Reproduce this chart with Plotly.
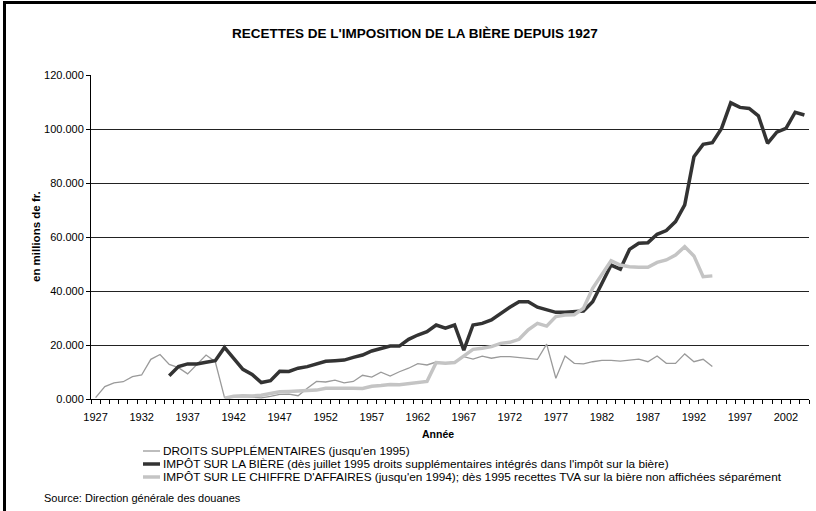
import plotly.graph_objects as go

years = list(range(1927, 2005))

# DROITS SUPPLÉMENTAIRES, 1927-1994 (millions de fr.)
droits_years = list(range(1927, 1995))
droits = [500, 4600, 6000, 6400, 8300, 8900, 14700, 16500, 12800, 11600,
          9300, 12800, 16300, 13800, 600, 800, 900, 700, 400, 1000,
          1700, 1800, 1200, 4000, 6500, 6300, 7000, 6000, 6500, 8800,
          8100, 9900, 8500, 10100, 11400, 13100, 12600, 13700, 13200, 13800,
          15700, 14800, 15900, 15100, 15700, 15700, 15300, 14900, 14700, 20300,
          7700, 15900, 13200, 13000, 13800, 14300, 14300, 14000, 14300, 14800,
          13800, 15900, 13200, 13200, 16700, 13800, 14700, 12000]

# IMPÔT SUR LA BIÈRE, 1935-2004
impot_years = list(range(1935, 2005))
impot = [8600, 12000, 13000, 13000, 13600, 14200, 19100, 15100, 11000, 9100,
         6100, 6800, 10300, 10200, 11400, 12000, 13000, 14000, 14200, 14400,
         15400, 16300, 17800, 18800, 19600, 19600, 22100, 23700, 24900, 27400,
         26200, 27400, 18100, 27400, 28000, 29300, 31700, 34000, 36000, 36000,
         34000, 33200, 32100, 32100, 32300, 32600, 36000, 42800, 49600, 48100,
         55400, 57700, 57900, 61000, 62400, 65700, 71900, 89700, 94300, 94900,
         100200, 109700, 108000, 107600, 104900, 94700, 98800, 100200, 106200, 105200]

# IMPÔT SUR LE CHIFFRE D'AFFAIRES, 1941-1994
chiffre_years = list(range(1941, 1995))
chiffre = [300, 1000, 1200, 1100, 1400, 1900, 2700, 2800, 3000, 3100,
           3300, 4000, 4100, 4100, 4000, 3900, 4700, 5000, 5400, 5300,
           5800, 6100, 6500, 13500, 13200, 13500, 15900, 18400, 18800, 19400,
           20600, 21000, 22100, 25600, 28000, 27000, 30500, 31100, 31200, 33600,
           41000, 45900, 51200, 49600, 49000, 48800, 48800, 50600, 51500, 53300,
           56400, 53000, 45300, 45600]

series_names = [
    "DROITS SUPPLÉMENTAIRES (jusqu'en 1995)",
    "IMPÔT SUR LA BIÈRE (dès juillet 1995 droits supplémentaires intégrés dans l'impôt sur la bière)",
    "IMPÔT SUR LE CHIFFRE D'AFFAIRES (jusqu'en 1994); dès 1995 recettes TVA sur la bière non affichées séparément",
]
series_colors = ["#9a9a9a", "#333333", "#c4c4c4"]
series_widths = [1.3, 3.5, 3.5]

x_tick_years = list(range(1927, 2005, 5))
y_tick_vals = [0, 20000, 40000, 60000, 80000, 100000, 120000]
y_tick_text = ["0.000", "20.000", "40.000", "60.000", "80.000", "100.000", "120.000"]

title_text = "RECETTES DE L'IMPOSITION DE LA BIÈRE DEPUIS 1927"
y_title = "en millions de fr."
x_title = "Année"
source_text = "Source: Direction générale des douanes"

FONT = "Liberation Sans, Arial, sans-serif"

W, H = 816, 511
L, R, T, B = 91, 7, 75, 112
pw, ph = W - L - R, H - T - B


def px_x(p):
    return (p - L) / pw


def px_y(p):
    return (H - B - p) / ph


fig = go.Figure()
for xs, ys, nm, c, w in zip([droits_years, impot_years, chiffre_years],
                            [droits, impot, chiffre], series_names,
                            series_colors, series_widths):
    fig.add_trace(go.Scatter(x=xs, y=ys, mode="lines", name=nm,
                             line=dict(color=c, width=w), showlegend=False,
                             hoverinfo="skip"))

annotations = [
    dict(text="<b>" + title_text + "</b>", xref="paper", yref="paper",
         x=px_x(415), y=px_y(33), xanchor="center", yanchor="middle",
         showarrow=False, font=dict(size=13.5, family=FONT)),
    dict(text="<b>" + y_title + "</b>", xref="paper", yref="paper",
         x=px_x(36), y=px_y(237), xanchor="center", yanchor="middle",
         textangle=-90, showarrow=False, font=dict(size=11.5, family=FONT)),
    dict(text="<b>" + x_title + "</b>", xref="paper", yref="paper",
         x=px_x(438), y=px_y(434), xanchor="center", yanchor="middle",
         showarrow=False, font=dict(size=10.5, family=FONT)),
    dict(text=source_text, xref="paper", yref="paper",
         x=px_x(42), y=px_y(498), xanchor="left", yanchor="middle",
         showarrow=False, font=dict(size=11, family=FONT)),
]
shapes = []

# legend (swatch + label), rows 13 px apart
legend_rows_y = [451, 464, 477]
for nm, c, w, ry in zip(series_names, series_colors, series_widths, legend_rows_y):
    shapes.append(dict(type="line", xref="paper", yref="paper",
                       x0=px_x(143), x1=px_x(160), y0=px_y(ry), y1=px_y(ry),
                       line=dict(color=c, width=w)))
    annotations.append(dict(text=nm, xref="paper", yref="paper",
                            x=px_x(161), y=px_y(ry), xanchor="left", yanchor="middle",
                            showarrow=False, font=dict(size=11.8, family=FONT)))

fig.update_layout(
    width=W, height=H,
    margin=dict(l=L, r=R, t=T, b=B),
    paper_bgcolor="white", plot_bgcolor="white",
    font=dict(family=FONT, size=11, color="#000000"),
    showlegend=False,
    hovermode=False,
    xaxis=dict(range=[1926.5, 2004.5], tickmode="array", tickvals=x_tick_years,
               ticktext=[str(v) for v in x_tick_years], ticks="", showgrid=False,
               showline=True, linecolor="#000000", linewidth=1, zeroline=False,
               tickfont=dict(size=11), ticklabelstandoff=8,
               minor=dict(ticks="outside", tick0=1926.5, dtick=1, ticklen=4,
                          tickcolor="#000000", showgrid=False)),
    yaxis=dict(range=[0, 120000], tickmode="array", tickvals=y_tick_vals,
               ticktext=y_tick_text, ticks="outside", ticklen=4, tickcolor="#000000",
               showgrid=True, gridcolor="#222222", gridwidth=1,
               showline=True, linecolor="#000000", linewidth=1, zeroline=False,
               tickfont=dict(size=11)),
    annotations=annotations,
    shapes=shapes,
)

frame_js = (
    "document.body.style.margin='0';"
    "document.body.style.overflow='hidden';"
    "document.documentElement.style.overflow='hidden';"
    "var t=document.createElement('div');"
    "t.style.cssText='position:fixed;left:3px;top:1px;width:813px;height:3px;background:#000;z-index:1000;';"
    "document.body.appendChild(t);"
    "var l=document.createElement('div');"
    "l.style.cssText='position:fixed;left:3px;top:1px;width:3px;height:520px;background:#000;z-index:1000;';"
    "document.body.appendChild(l);"
)

fig.write_html("out.html", config={"displayModeBar": False}, post_script=frame_js)
